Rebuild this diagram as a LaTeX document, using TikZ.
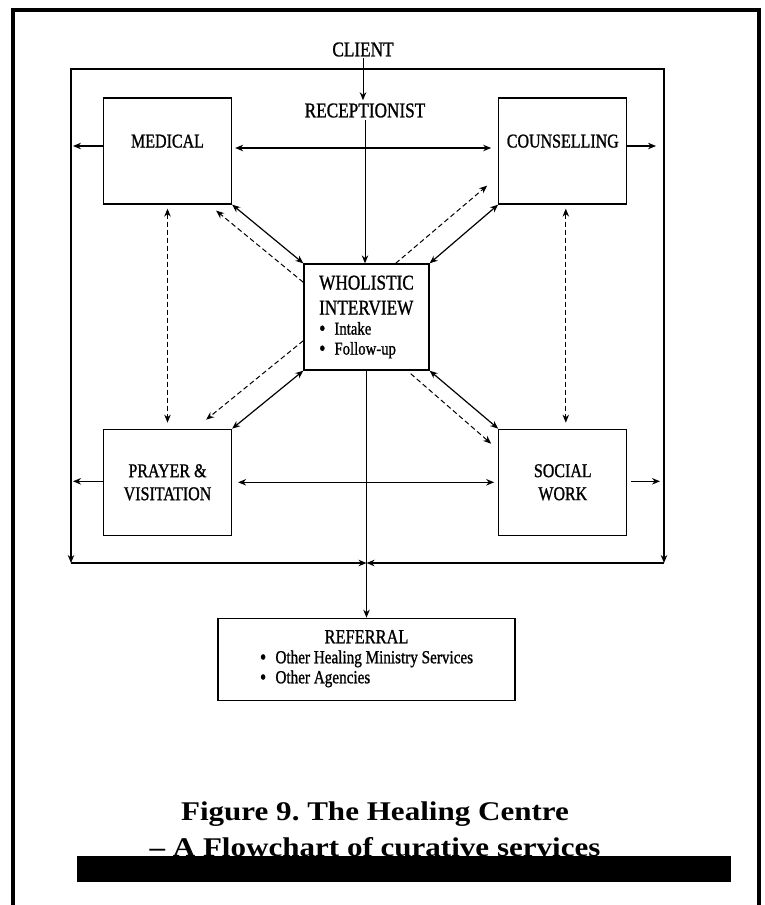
\documentclass[tikz,border=0pt]{standalone}
\usepackage{fontspec}
\usepackage{tikz}
\usetikzlibrary{arrows.meta,positioning,calc}
\newfontfamily\chartfont[FakeStretch=0.82, FakeBold=1.1]{Liberation Serif}
\newfontfamily\capfont[FakeStretch=1.15]{Liberation Serif}
\newcommand{\dotmark}{\raisebox{-1pt}{\fontsize{22}{18}\selectfont\textbullet}}

\begin{document}
\begin{tikzpicture}[
        x=1pt, y=-1pt,
        >={Stealth[length=8pt, width=6.5pt]},
        box/.style={rectangle, draw, line width=1.3pt,
            minimum width=128pt, minimum height=106pt, inner sep=0pt,
            align=center, font=\chartfont\fontsize{19.5}{23}\selectfont},
        head/.style={inner sep=0pt, font=\chartfont\fontsize{21}{25}\selectfont},
        link/.style={<->, line width=1.2pt},
        hint/.style={->, line width=1pt, dash pattern=on 5pt off 3pt},
        frame/.style={line width=1.6pt}
    ]
        \useasboundingbox (0,0) rectangle (765,905);
        \draw[line width=3.2pt] (13,905) -- (13,10) -- (759,10) -- (759,905);

        \node[head] (client) at (363,49.5) {CLIENT};
        \node[head] (recep) at (365,110.5) {RECEPTIONIST};

        \node[box, text height=13pt, text depth=20pt] (medical) at (167.5,151) {MEDICAL};
        \node[box, text height=13pt, text depth=20pt, right=266pt of medical] (counsel) {COUNSELLING};
        \node[box, below=224pt of medical] (prayer) {PRAYER \&\\VISITATION};
        \node[box, right=266pt of prayer] (social) {SOCIAL\\WORK};
        \node[box, minimum width=125pt, align=left, font=\chartfont\fontsize{21}{25}\selectfont] (wholistic) at (366.5,317)
            {WHOLISTIC\\INTERVIEW\\[-5pt]{\fontsize{18}{20}\selectfont\dotmark\enspace Intake}\\[-5pt]{\fontsize{18}{20}\selectfont\dotmark\enspace Follow-up}};
        \node[box, minimum width=297pt, minimum height=82pt, below=247pt of wholistic,
            font=\chartfont\fontsize{18.5}{20}\selectfont] (referral)
            {\begin{tabular}{@{}l@{}}\multicolumn{1}{@{}c@{}}{\fontsize{20}{20}\selectfont REFERRAL}\\
             \dotmark\enspace Other Healing Ministry Services\\
             \dotmark\enspace Other Agencies\end{tabular}};

        % inner frame and exits
        \coordinate (tl) at (71,69);
        \coordinate (tr) at (664,69);
        \coordinate (bl) at (71,563);
        \coordinate (br) at (664,563);
        \coordinate (hub) at (366.5,563);
        \draw[frame, <->] (bl) -- (tl) -- (tr) -- (br);
        \draw[frame, ->] (bl) -- (hub);
        \draw[frame, ->] (br) -- (hub);
        \draw[frame, ->] (wholistic.south) -- (referral.north);

        \draw[->, line width=1pt, shorten <=1pt, shorten >=3pt] (client.south) -- (client.south |- recep.north);
        \draw[->, line width=1pt, shorten <=2pt] (recep.south) -- (recep.south |- wholistic.north);

        \draw[link, shorten <=3pt, shorten >=7pt] ([yshift=3pt]medical.east) -- ([yshift=3pt]counsel.west);
        \draw[link, shorten <=6pt, shorten >=4pt] (prayer.east) -- (social.west);
        \draw[->, line width=1.2pt, shorten >=2pt] ([yshift=5pt]medical.west) -- ([yshift=5pt]medical.west -| tl);
        \draw[->, line width=1.2pt, shorten >=8pt] ([yshift=5pt]counsel.east) -- ([yshift=5pt]counsel.east -| tr);
        \draw[->, line width=1.2pt, shorten >=2pt] ([yshift=1pt]prayer.west) -- ([yshift=1pt]prayer.west -| tl);
        \draw[->, line width=1.2pt, shorten <=4pt, shorten >=4pt] ([yshift=1pt]social.east) -- ([yshift=1pt]social.east -| tr);

        \draw[link] (medical.south east) -- (wholistic.north west);
        \draw[link] (counsel.south west) -- (wholistic.north east);
        \draw[link] (wholistic.south west) -- (prayer.north east);
        \draw[link] (wholistic.south east) -- (social.north west);

        \draw[hint] ([yshift=-19pt]wholistic.north west) -- ([xshift=-16pt,yshift=-6pt]medical.south east);
        \draw[hint] ([xshift=-34pt]wholistic.north east) -- ([xshift=-11pt,yshift=19pt]counsel.south west);
        \draw[hint] ([yshift=30pt]wholistic.south west) -- ([xshift=-26pt,yshift=9pt]prayer.north east);
        \draw[hint] ([xshift=-19pt,yshift=-3pt]wholistic.south east) -- ([xshift=-7pt,yshift=-15pt]social.north west);
        \draw[hint, <->, shorten <=4pt, shorten >=6pt] (medical.south) -- (prayer.north);
        \draw[hint, <->, shorten <=4pt, shorten >=6pt] ([xshift=3pt]counsel.south) -- ([xshift=3pt]counsel.south |- social.north);

        \node[align=center, inner sep=0pt, font=\capfont\bfseries\fontsize{27}{36}\selectfont] (caption) at (375,829)
            {Figure 9.\ The Healing Centre\\– A Flowchart of curative services};
        \fill (77,856) rectangle (731,882);
    \end{tikzpicture}
\end{document}
